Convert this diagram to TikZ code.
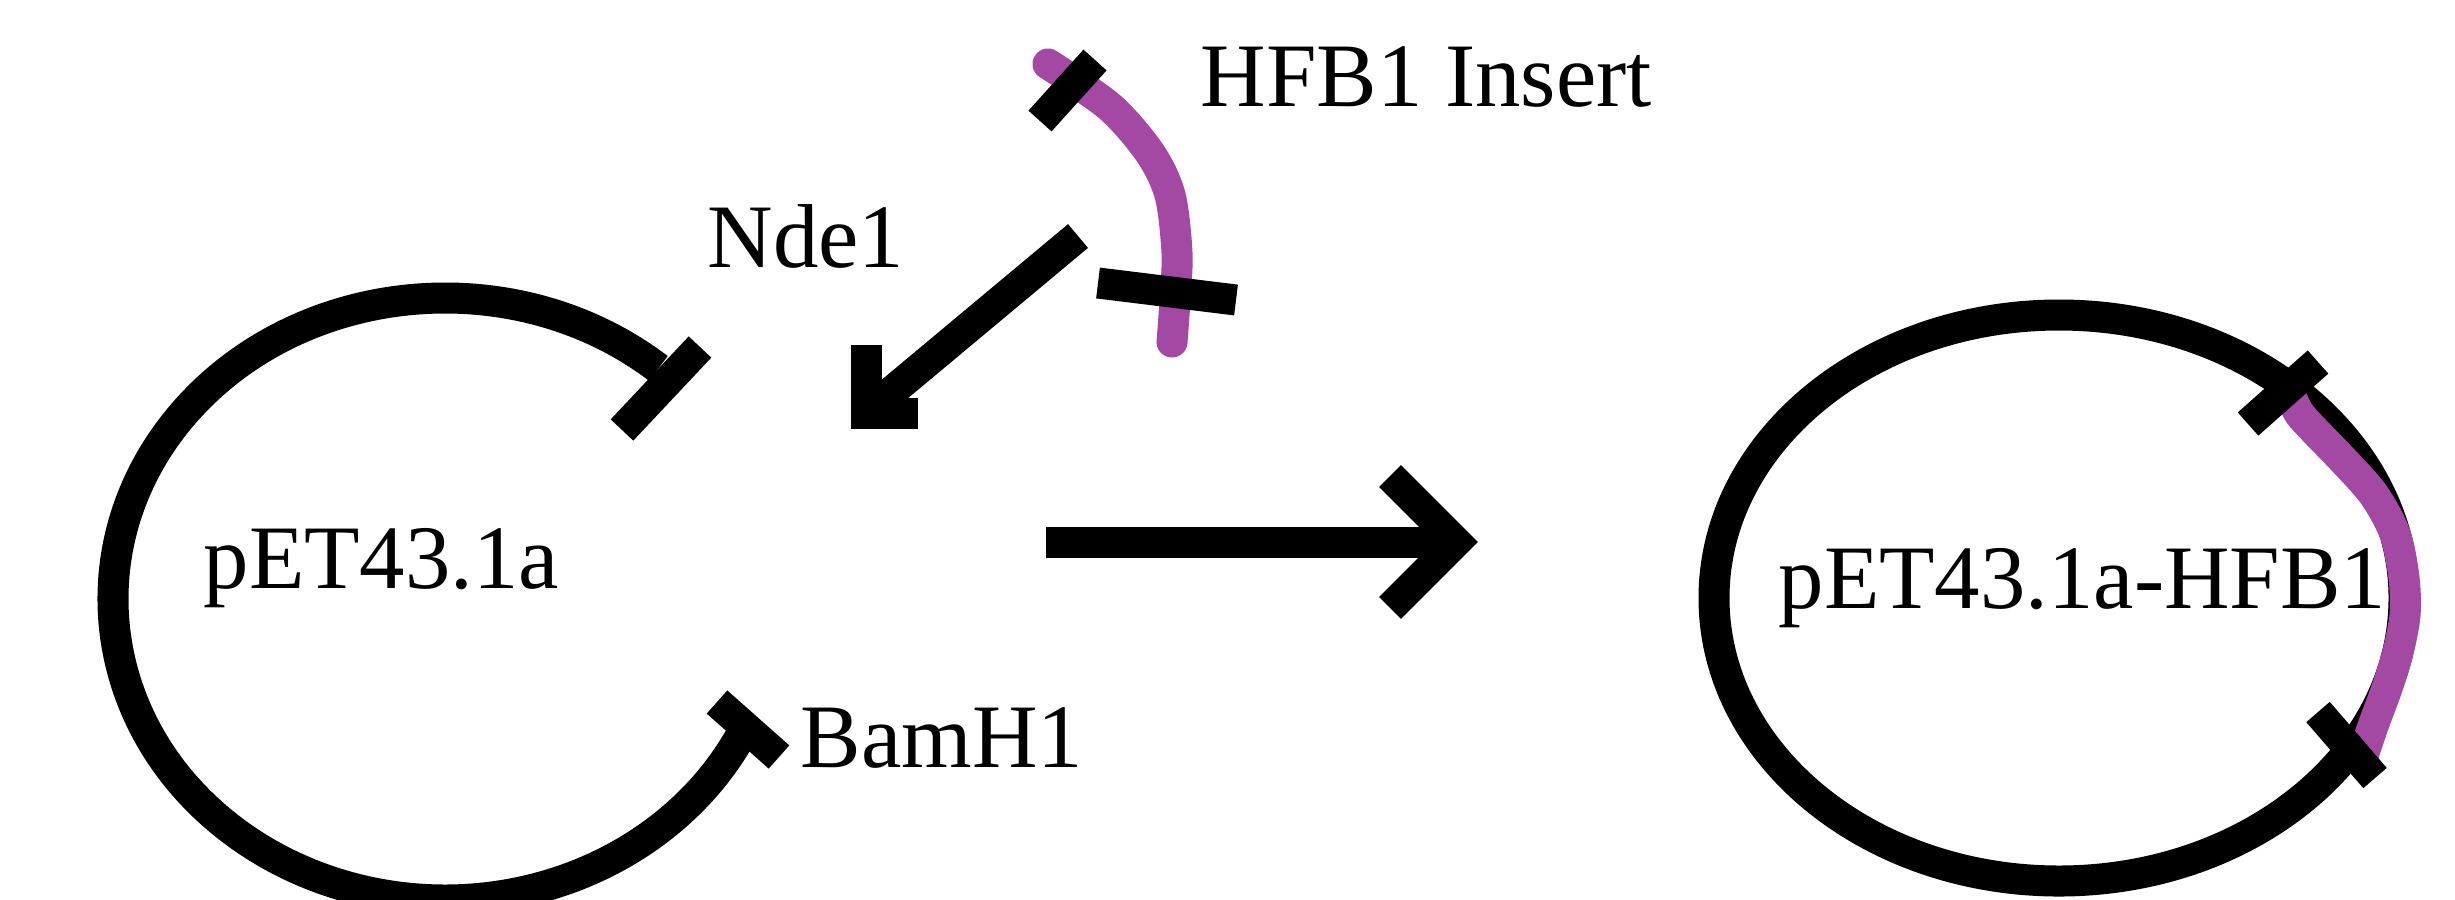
\documentclass[tikz,border=0pt]{standalone}
\usepackage{fontspec}
\setmainfont{Liberation Serif}
\usetikzlibrary{calc}
\definecolor{insertpurple}{HTML}{A349A4}
\tikzset{
  blk/.style={line width=0.31cm, draw=black, line join=miter},
  ins/.style={line width=0.31cm, draw=insertpurple, line cap=round},
  lbl/.style={anchor=base west, inner sep=0pt, text=black,
              font=\fontsize{25.8}{30}\selectfont}
}
\begin{document}
\begin{tikzpicture}[x=0.01cm, y=-0.01cm]
  \useasboundingbox (0,0) rectangle (2455,899);
  \clip (0,0) rectangle (2455,899);

  % ---------- opened vector pET43.1a ----------
  \coordinate (lc) at (445,599);
  \draw[blk] ([shift={(-50:332 and 301)}]lc)
        arc[start angle=-50, end angle=-332.5, x radius=332, y radius=301];
  % cut sites at the two ends of the opened vector
  \coordinate (ndeA) at (700,347);  \coordinate (ndeB) at (622,430);
  \coordinate (bamA) at (717,702);  \coordinate (bamB) at (779,757);
  \draw[blk] (ndeA) -- (ndeB);
  \draw[blk] (bamA) -- (bamB);
  \node[lbl] (vec)  at (203,588) {pET43.1a};
  \node[lbl] (bam)  at (800,767) {BamH1};

  % ---------- HFB1 insert ----------
  \draw[ins] plot[smooth] coordinates
        {(1048,64) (1110,107) (1150,153) (1170,195) (1177,253) (1175,300) (1172,342)};
  \coordinate (insTopA) at (1095,60);  \coordinate (insTopB) at (1040,121);
  \coordinate (insBotA) at (1098,283); \coordinate (insBotB) at (1236,300);
  \draw[blk] (insTopA) -- (insTopB);
  \draw[blk] (insBotA) -- (insBotB);
  \node[lbl] (insert) at (1200,106) {HFB1 Insert};

  % ---------- ligation arrow into the Nde1 site ----------
  \node[lbl] (nde) at (707,267) {Nde1};
  \coordinate (ligS) at (1078,236);
  \coordinate (ligT) at (866,413);
  \draw[blk] (ligS) -- (ligT);
  \draw[blk] ($(ligT)+(0,-68)$) -- (ligT) -- ($(ligT)+(52,0)$);

  % ---------- reaction arrow ----------
  \coordinate (rxS) at (1046,542);
  \coordinate (rxT) at (1456,542);
  \draw[blk] (rxS) -- (rxT);
  \draw[blk] ($(rxT)+(-66,-66)$) -- (rxT) -- ($(rxT)+(-66,66)$);

  % ---------- recombinant plasmid pET43.1a-HFB1 ----------
  \coordinate (rc) at (2059,598);
  \draw[blk] (rc) ellipse[x radius=345, y radius=283];
  \draw[ins] plot[smooth, tension=0.5] coordinates
        {(2289,392) (2299,413) (2316,432) (2344,461) (2374,495) (2395,534)
         (2404,578) (2405,615) (2398,652) (2387,688) (2373,726) (2361,762)};
  \coordinate (rTopA) at (2318,362); \coordinate (rTopB) at (2248,424);
  \coordinate (rBotA) at (2318,712); \coordinate (rBotB) at (2375,778);
  \draw[blk] (rTopA) -- (rTopB);
  \draw[blk] (rBotA) -- (rBotB);
  \node[lbl] (rec) at (1778,608) {pET43.1a-HFB1};
\end{tikzpicture}
\end{document}
